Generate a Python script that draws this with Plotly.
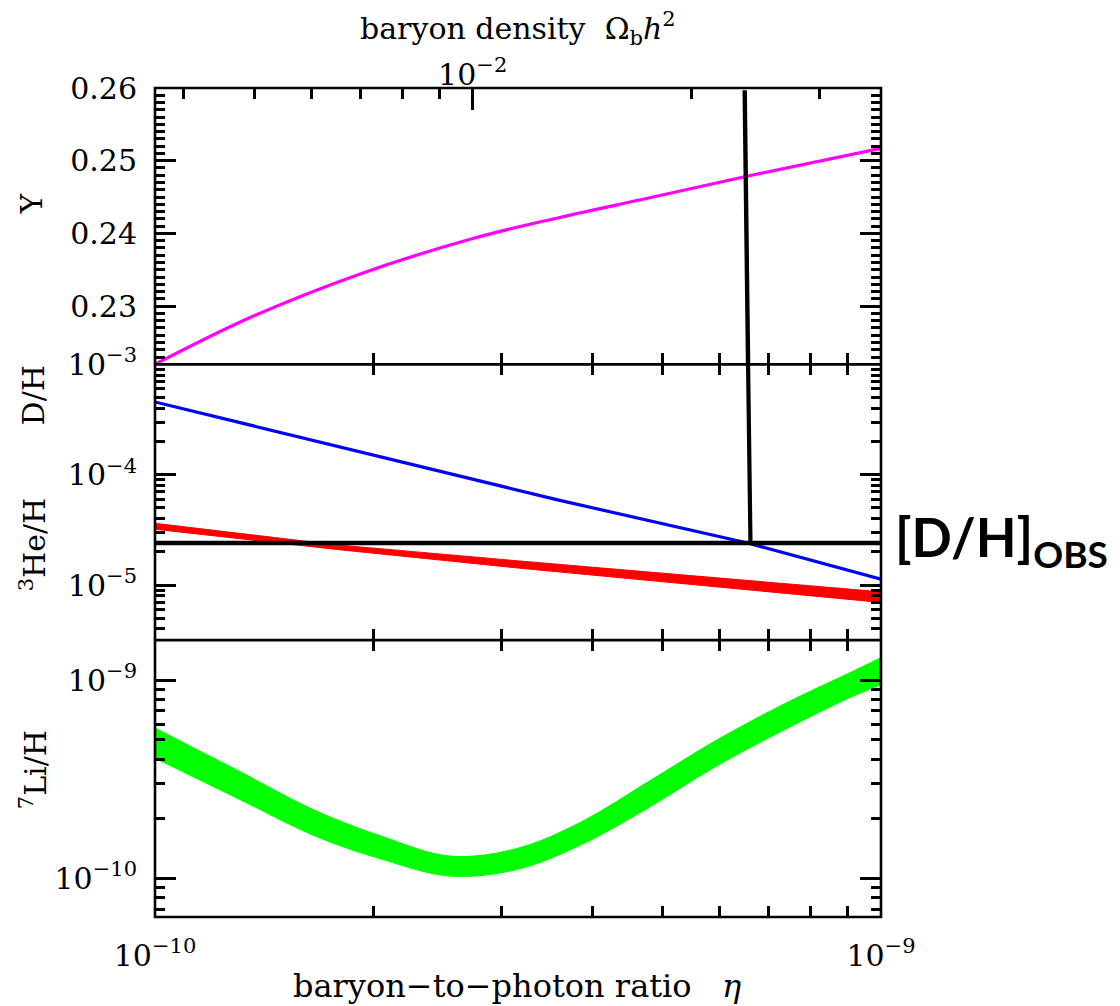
import math
import plotly.graph_objects as go

# ---------------- data ----------------
# primordial helium mass fraction vs baryon-to-photon ratio
eta_Y = [1.00e-10, 1.35e-10, 1.90e-10, 2.74e-10, 3.61e-10, 4.80e-10, 6.49e-10, 1.00e-9]
Y_p = [0.2220, 0.2284, 0.2343, 0.2393, 0.2422, 0.2449, 0.2478, 0.2517]

# deuterium abundance
eta_D = [1.00e-10, 2.00e-10, 3.61e-10, 6.55e-10, 1.00e-9]
D_H = [4.56e-4, 1.50e-4, 5.85e-5, 2.40e-5, 1.13e-5]

# helium-3 abundance band (upper / lower)
eta_He3 = [1.00e-10, 1.78e-10, 3.18e-10, 5.62e-10, 1.00e-9]
He3_hi = [3.62e-5, 2.31e-5, 1.65e-5, 1.19e-5, 8.67e-6]
He3_lo = [3.20e-5, 2.10e-5, 1.42e-5, 9.90e-6, 6.95e-6]

# lithium-7 abundance band (upper / lower)
eta_Li = [1.000e-10, 1.289e-10, 1.671e-10, 2.060e-10, 2.547e-10, 3.150e-10,
          3.870e-10, 4.771e-10, 5.899e-10, 7.297e-10, 8.994e-10, 1.000e-9]
Li_hi = [5.73e-10, 3.56e-10, 2.18e-10, 1.624e-10, 1.296e-10, 1.414e-10,
         1.933e-10, 3.06e-10, 4.92e-10, 7.48e-10, 1.078e-9, 1.299e-9]
Li_lo = [4.04e-10, 2.57e-10, 1.62e-10, 1.244e-10, 1.027e-10, 1.108e-10,
         1.481e-10, 2.26e-10, 3.64e-10, 5.53e-10, 8.07e-10, 9.49e-10]

# observed D/H and the eta it selects
DH_obs = 2.40e-5
eta_obs_top = [6.49e-10, 6.56e-10]
Y_obs_span = [0.2597, 0.2220]
eta_obs_mid = [6.56e-10, 6.61e-10]
DH_obs_span = [1.0e-3, DH_obs]
eta_range = [1.0e-10, 1.0e-9]

# axis ticks
eta_ticks = [1e-10, 2e-10, 3e-10, 4e-10, 5e-10, 6e-10, 7e-10, 8e-10, 9e-10, 1e-9]
eta_labels = ["10<sup>−10</sup>", "", "", "", "", "", "", "", "", "10<sup>−9</sup>"]
Y_ticks = [0.23, 0.24, 0.25, 0.26]
Y_labels = ["0.23", "0.24", "0.25", "0.26"]
mid_ticks = [1e-3, 1e-4, 1e-5]
mid_labels = ["10<sup>−3</sup>", "10<sup>−4</sup>", "10<sup>−5</sup>"]
li_ticks = [1e-10, 1e-9]
li_labels = ["10<sup>−10</sup>", "10<sup>−9</sup>"]
omega_ticks = [0.01]
omega_labels = ["10<sup>−2</sup>"]
omega_minor = [0.004, 0.005, 0.006, 0.007, 0.008, 0.009, 0.02, 0.03]
ETA_PER_OMEGA = 273.9e-10   # eta = 273.9e-10 * Omega_b h^2

# ---------------- geometry ----------------
W, H = 1120, 1006
L, R, T, B = 155, 881.5, 87.5, 917
PW, PH = R - L, B - T
d1 = (B - 640) / PH
d2 = (B - 364) / PH


def px(x):
    return (x - L) / PW


def py(y):
    return (B - y) / PH


def minor_log(lo, hi):
    return [m * 10 ** e for e in range(lo, hi) for m in range(2, 10)]


SERIF = "DejaVu Serif"
FS = 30
LW = 2.6

fig = go.Figure()


def line(x, y, xa, ya, color, width, shape="linear", **kw):
    fig.add_trace(go.Scatter(x=x, y=y, xaxis=xa, yaxis=ya, mode="lines",
                             line=dict(color=color, width=width, shape=shape),
                             showlegend=False, hoverinfo="skip", **kw))


# top panel: Y
line(eta_Y, Y_p, "x3", "y3", "#ff00ff", 3.2, "spline")
line(eta_obs_top, Y_obs_span, "x3", "y3", "black", 4.4)
# carrier for the Omega_b h^2 axis
line([eta_range[0] / ETA_PER_OMEGA, eta_range[1] / ETA_PER_OMEGA], [None, None],
     "x4", "y3", "black", 1)

# middle panel: D/H and 3He/H
line(eta_He3, He3_lo, "x2", "y2", "#ff0000", 1)
line(eta_He3, He3_hi, "x2", "y2", "#ff0000", 1, fill="tonexty", fillcolor="#ff0000")
line(eta_D, D_H, "x2", "y2", "#0000ff", 3.2)
line(eta_range, [DH_obs, DH_obs], "x2", "y2", "black", 4.5)
line(eta_obs_mid, DH_obs_span, "x2", "y2", "black", 4.2)

# bottom panel: 7Li/H
line(eta_Li, Li_lo, "x", "y", "#00ff00", 1, "spline")
line(eta_Li, Li_hi, "x", "y", "#00ff00", 1, "spline", fill="tonexty", fillcolor="#00ff00")

tickfont = dict(family=SERIF, size=FS, color="black")
common = dict(showgrid=False, zeroline=False, showline=False,
              ticks="inside", tickcolor="black", tickwidth=LW, tickfont=tickfont)


def minor(vals, length):
    return dict(tickvals=vals, ticks="inside", ticklen=length, tickwidth=LW,
                tickcolor="black", showgrid=False)


eta_axis = dict(common, type="log", range=[-10, -9], tickvals=eta_ticks, ticklen=11)
om_lo = math.log10(eta_range[0] / ETA_PER_OMEGA)
om_hi = math.log10(eta_range[1] / ETA_PER_OMEGA)

fig.update_layout(
    width=W, height=H,
    margin=dict(l=L, r=W - R, t=T, b=H - B),
    paper_bgcolor="white", plot_bgcolor="white",
    xaxis=dict(eta_axis, domain=[0, 1], anchor="y", mirror="ticks",
               ticktext=eta_labels, ticklabelstandoff=18),
    xaxis2=dict(eta_axis, domain=[0, 1], anchor="y2", mirror="ticks", showticklabels=False),
    xaxis3=dict(eta_axis, domain=[0, 1], anchor="y3", mirror=False, showticklabels=False),
    xaxis4=dict(common, type="log", overlaying="x3", side="top", anchor="y3",
                range=[om_lo, om_hi], tickvals=omega_ticks, ticktext=omega_labels,
                ticklen=22, ticklabelstandoff=-4, minor=minor(omega_minor, 11)),
    yaxis=dict(common, domain=[0, d1], anchor="x", type="log",
               range=[-10.195, -8.798], tickvals=li_ticks, ticktext=li_labels,
               ticklen=21, mirror="ticks", ticklabelstandoff=17,
               minor=minor(minor_log(-11, -8), 10)),
    yaxis2=dict(common, domain=[d1, d2], anchor="x2", type="log",
                range=[-5.5, -3.0], tickvals=mid_ticks, ticktext=mid_labels,
                ticklen=21, mirror="ticks", ticklabelstandoff=17,
                minor=minor(minor_log(-6, -3), 10)),
    yaxis3=dict(common, domain=[d2, 1], anchor="x3",
                range=[0.222, 0.26], tickvals=Y_ticks, ticktext=Y_labels,
                ticklen=21, mirror="ticks", ticklabelstandoff=17,
                minor=minor([round(0.222 + 0.001 * i, 3) for i in range(39)], 10)),
)

# panel frames
frame = dict(color="black", width=LW)
fig.add_shape(type="rect", xref="paper", yref="paper", x0=0, x1=1, y0=0, y1=1,
              line=frame, layer="above")
for yb in (d1, d2):
    fig.add_shape(type="line", xref="paper", yref="paper", x0=0, x1=1, y0=yb, y1=yb,
                  line=frame, layer="above")

titlefont = dict(family=SERIF, size=FS, color="black")
ann = [
    dict(text="Y", x=px(31), y=py(203), textangle=-90),
    dict(text="D/H", x=px(33), y=py(395), textangle=-90),
    dict(text="<sup>3</sup>He/H", x=px(33), y=py(544), textangle=-90),
    dict(text="<sup>7</sup>Li/H", x=px(33), y=py(770), textangle=-90),
    dict(text="baryon density\u00a0\u00a0Ω<sub>b</sub><i>h</i><sup>2</sup>", x=px(518), y=py(28)),
    dict(text="baryon−to−photon ratio\u00a0\u00a0\u00a0<i>η</i>", x=px(517), y=py(986),
         font=dict(family=SERIF, size=32, color="black")),
]
for a in ann:
    a.setdefault("font", titlefont)
    fig.add_annotation(xref="paper", yref="paper", showarrow=False,
                       xanchor="center", yanchor="middle", **a)

fig.add_annotation(xref="paper", yref="paper", showarrow=False,
                   x=px(894), y=py(540), xanchor="left", yanchor="middle",
                   text="<b>[D/H]<sub>OBS</sub></b>",
                   font=dict(family="Lato", size=53, color="black"))

fig.write_html("out.html")
